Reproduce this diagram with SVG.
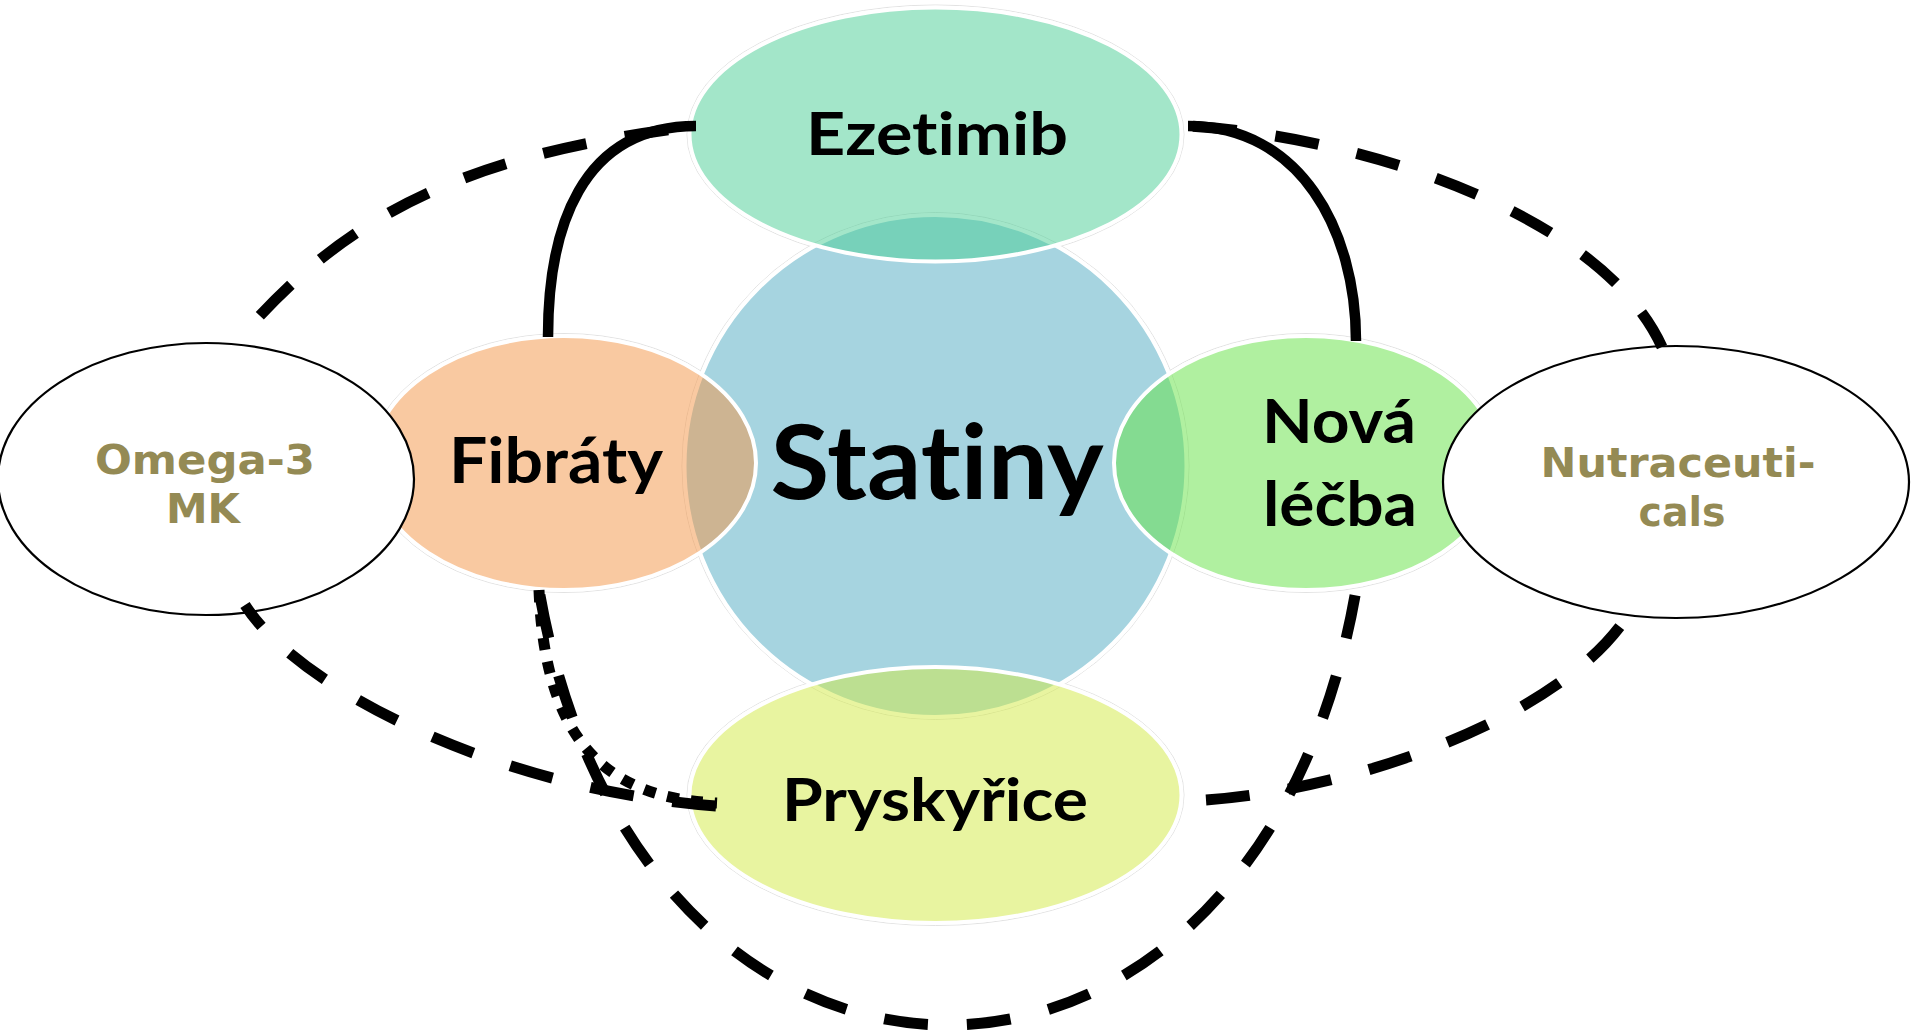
<svg xmlns="http://www.w3.org/2000/svg" width="1911" height="1034" viewBox="0 0 1911 1034">
  <defs>
    <style>
      .halo { fill: none; stroke: #e2e2e2; stroke-width: 1; }
      .lobe { stroke: #ffffff; stroke-width: 4; fill-opacity: 0.5; }
      .core { stroke: #ffffff; stroke-width: 4; }
      .lbl { font-family: Lato, "Open Sans", "Liberation Sans", sans-serif; font-weight: 700; fill: #000000; text-anchor: middle; font-variant-ligatures: none; font-feature-settings: "liga" 0, "clig" 0; }
      .side { fill: #ffffff; stroke: #000000; stroke-width: 2.2; }
      .slbl { font-family: "DejaVu Sans", Verdana, sans-serif; font-weight: 700; fill: #948A54; text-anchor: middle; font-size: 41px; }
      .solid { fill: none; stroke: #000000; stroke-width: 10.5; }
      .dash { fill: none; stroke: #000000; stroke-width: 11; stroke-dasharray: 44 39; }
      .dot { fill: none; stroke: #000000; stroke-width: 11; stroke-dasharray: 12 12; }
    </style>
  </defs>

  <rect x="0" y="0" width="1911" height="1034" fill="#ffffff"/>

  <!-- faint outer rims of the coloured shapes -->
  <g id="rims">
    <circle class="halo" cx="935.5" cy="466" r="253.5"/>
    <ellipse class="halo" cx="935.5" cy="134.5" rx="248.5" ry="129.5"/>
    <ellipse class="halo" cx="935.5" cy="795" rx="248.5" ry="130.5"/>
    <ellipse class="halo" cx="564" cy="463" rx="194.5" ry="129.5"/>
    <ellipse class="halo" cx="1306" cy="463" rx="194.5" ry="129.5"/>
  </g>

  <g id="node-statiny">
    <circle class="core" cx="935.5" cy="466" r="251" fill="#A6D4E0"/>
    <text class="lbl" x="937" y="499" font-size="103" textLength="333" lengthAdjust="spacingAndGlyphs">Statiny</text>
  </g>

  <g id="node-ezetimib">
    <ellipse class="lobe" cx="935.5" cy="134.5" rx="246" ry="127" fill="#47CD93"/>
    <text class="lbl" x="937" y="155" font-size="60" textLength="262" lengthAdjust="spacingAndGlyphs">Ezetimib</text>
  </g>

  <g id="node-pryskyrice">
    <ellipse class="lobe" cx="935.5" cy="795" rx="246" ry="128" fill="#D1E941"/>
    <text class="lbl" x="935" y="821" font-size="60" textLength="306" lengthAdjust="spacingAndGlyphs">Pryskyřice</text>
  </g>

  <g id="node-fibraty">
    <ellipse class="lobe" cx="564" cy="463" rx="192" ry="127" fill="#F39343"/>
    <text class="lbl" x="556" y="483" font-size="63" textLength="214" lengthAdjust="spacingAndGlyphs">Fibráty</text>
  </g>

  <g id="node-nova-lecba">
    <ellipse class="lobe" cx="1306" cy="463" rx="192" ry="127" fill="#61E141"/>
    <text class="lbl" x="1339" y="443" font-size="62" textLength="154" lengthAdjust="spacingAndGlyphs">Nová</text>
    <text class="lbl" x="1340" y="526" font-size="62" textLength="154" lengthAdjust="spacingAndGlyphs">léčba</text>
  </g>

  <g id="node-omega3">
    <ellipse class="side" cx="206" cy="479" rx="208" ry="136"/>
    <text class="slbl" x="205" y="474" textLength="220" lengthAdjust="spacingAndGlyphs">Omega-3</text>
    <text class="slbl" x="203" y="522.5" textLength="74" lengthAdjust="spacingAndGlyphs">MK</text>
  </g>

  <g id="node-nutraceuticals">
    <ellipse class="side" cx="1676" cy="482" rx="233" ry="136"/>
    <text class="slbl" x="1678" y="477" textLength="275" lengthAdjust="spacingAndGlyphs">Nutraceuti-</text>
    <text class="slbl" x="1682" y="526" textLength="87" lengthAdjust="spacingAndGlyphs">cals</text>
  </g>

  <g id="connectors">
    <!-- solid links from Ezetimib down to Fibráty and Nová léčba -->
    <path class="solid" d="M548,337 C548,230 580,126 696,126"/>
    <path class="solid" d="M1188,126 C1300,126 1356,230 1356,341"/>
    <!-- dashed outer arcs from Ezetimib -->
    <path class="dash" stroke-dashoffset="55" d="M696,126 C495,151 366,199 256,320 L236,343"/>
    <path class="dash" stroke-dashoffset="78" d="M1188,126 C1369,137 1603,217 1662,347"/>
    <!-- dashed loop under Pryskyřice: Fibráty to Nová léčba -->
    <path class="dash" stroke-dashoffset="78" d="M539,590 C639,1170 1256,1170 1356,590"/>
    <!-- dotted link Fibráty to Pryskyřice -->
    <path class="dot" d="M539,590 C545,740 605,798 717,803"/>
    <!-- dashed links to Pryskyřice from the white side nodes -->
    <path class="dash" d="M716,806 C500,790 300,690 245,605"/>
    <path class="dash" d="M1206,800 C1350,790 1560,720 1628,615"/>
  </g>
</svg>
